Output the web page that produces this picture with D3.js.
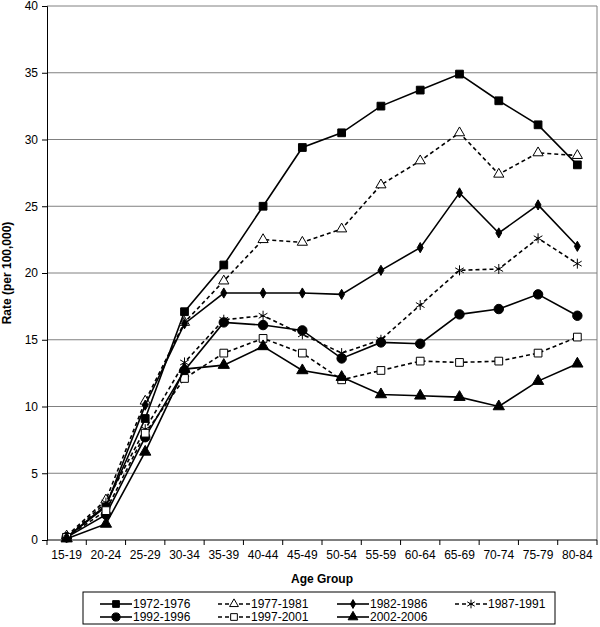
<!DOCTYPE html>
<html>
<head>
<meta charset="utf-8">
<script src="https://cdn.jsdelivr.net/npm/d3@7"></script>
<style>
  body { margin: 0; background: #fff; }
  text { font-family: "Liberation Sans", Arial, sans-serif; }
</style>
</head>
<body>
<div id="chart"></div>
<script>
var ageGroups = ['15-19','20-24','25-29','30-34','35-39','40-44','45-49','50-54','55-59','60-64','65-69','70-74','75-79','80-84'];
var yTicks = [0, 5, 10, 15, 20, 25, 30, 35, 40];

var s1972 = [0.2, 2.6, 9.1, 17.1, 20.6, 25.0, 29.4, 30.5, 32.5, 33.7, 34.9, 32.9, 31.1, 28.1];
var s1977 = [0.3, 3.0, 10.4, 16.3, 19.4, 22.5, 22.3, 23.3, 26.6, 28.4, 30.5, 27.4, 29.0, 28.8];
var s1982 = [0.2, 2.5, 10.1, 16.2, 18.5, 18.5, 18.5, 18.4, 20.2, 21.9, 26.0, 23.0, 25.1, 22.0];
var s1987 = [0.2, 2.8, 8.3, 13.3, 16.5, 16.8, 15.4, 14.0, 15.0, 17.6, 20.2, 20.3, 22.6, 20.7];
var s1992 = [0.2, 1.9, 7.7, 12.7, 16.3, 16.1, 15.7, 13.6, 14.8, 14.7, 16.9, 17.3, 18.4, 16.8];
var s1997 = [0.2, 2.2, 8.0, 12.1, 14.0, 15.1, 14.0, 12.0, 12.7, 13.4, 13.3, 13.4, 14.0, 15.2];
var s2002 = [0.1, 1.2, 6.6, 12.8, 13.1, 14.5, 12.7, 12.2, 10.9, 10.8, 10.7, 10.0, 11.9, 13.2];

var seriesNames = ['1972-1976','1977-1981','1982-1986','1987-1991','1992-1996','1997-2001','2002-2006'];
var seriesValues = [s1972, s1977, s1982, s1987, s1992, s1997, s2002];

// marker style per series
var styles = [
  {sym: d3.symbolSquare,   size: 60, fill: '#000', dash: null},
  {sym: d3.symbolTriangle, size: 45, fill: '#fff', dash: '4,3'},
  {sym: d3.symbolDiamond,  size: 30, fill: '#000', dash: null},
  {sym: d3.symbolAsterisk, size: 70, fill: 'none', dash: '4,3'},
  {sym: d3.symbolCircle,   size: 70, fill: '#000', dash: null},
  {sym: d3.symbolSquare,   size: 60, fill: '#fff', dash: '4,3'},
  {sym: d3.symbolTriangle, size: 55, fill: '#000', dash: null}
];

var width = 600, height = 627;
var margin = {left: 47, right: 3, top: 6, bottom: 87};

var svg = d3.select('#chart').append('svg')
  .attr('width', width)
  .attr('height', height);

var x = d3.scaleBand()
  .domain(ageGroups)
  .range([margin.left, width - margin.right]);

var y = d3.scaleLinear()
  .domain([0, 40])
  .range([height - margin.bottom, margin.top]);

// gridlines
svg.append('g')
  .selectAll('line')
  .data(yTicks.filter(function(d){ return d > 0; }))
  .enter()
  .append('line')
  .attr('x1', margin.left)
  .attr('x2', width - margin.right)
  .attr('y1', function(d){ return y(d); })
  .attr('y2', function(d){ return y(d); })
  .attr('stroke', '#808080')
  .attr('stroke-width', 1);

// right border
svg.append('line')
  .attr('x1', width - margin.right)
  .attr('x2', width - margin.right)
  .attr('y1', y(40))
  .attr('y2', y(0))
  .attr('stroke', '#808080');

// y axis
var yAxis = svg.append('g')
  .attr('transform', 'translate(' + margin.left + ',0)')
  .call(d3.axisLeft(y).tickValues(yTicks).tickSize(5).tickPadding(4));
yAxis.select('.domain').attr('stroke', '#000');
yAxis.selectAll('text').attr('font-size', 12).attr('fill', '#000')
  .attr('font-family', '"Liberation Sans", Arial, sans-serif');

// x axis with ticks between categories
var xAxis = svg.append('g')
  .attr('transform', 'translate(0,' + y(0) + ')')
  .call(d3.axisBottom(x).tickSize(0).tickPadding(10));
xAxis.select('.domain').attr('d', 'M' + margin.left + ',0H' + (width - margin.right)).attr('stroke', '#000');
xAxis.selectAll('text').attr('font-size', 12).attr('fill', '#000')
  .attr('font-family', '"Liberation Sans", Arial, sans-serif');
xAxis.selectAll('line.sep')
  .data(d3.range(ageGroups.length + 1))
  .enter()
  .append('line')
  .attr('class', 'sep')
  .attr('x1', function(i){ return margin.left + i * x.bandwidth(); })
  .attr('x2', function(i){ return margin.left + i * x.bandwidth(); })
  .attr('y1', 0)
  .attr('y2', 5)
  .attr('stroke', '#000');

// axis titles
svg.append('text')
  .text('Age Group')
  .attr('x', (margin.left + width - margin.right) / 2)
  .attr('y', 583)
  .attr('text-anchor', 'middle')
  .attr('font-size', 12)
  .attr('font-weight', 'bold');

svg.append('text')
  .text('Rate (per 100,000)')
  .attr('transform', 'translate(11,' + y(20) + ') rotate(-90)')
  .attr('text-anchor', 'middle')
  .attr('font-size', 12)
  .attr('font-weight', 'bold');

// lines + markers
var line = d3.line()
  .x(function(d, i){ return x(ageGroups[i]) + x.bandwidth() / 2; })
  .y(function(d){ return y(d); });

seriesValues.forEach(function(vals, k){
  var st = styles[k];
  var g = svg.append('g');
  g.append('path')
    .datum(vals)
    .attr('d', line)
    .attr('fill', 'none')
    .attr('stroke', '#000')
    .attr('stroke-width', 1.6)
    .attr('stroke-dasharray', st.dash);
  g.selectAll('path.m')
    .data(vals)
    .enter()
    .append('path')
    .attr('class', 'm')
    .attr('d', d3.symbol().type(st.sym).size(st.size))
    .attr('transform', function(d, i){
      return 'translate(' + (x(ageGroups[i]) + x.bandwidth() / 2) + ',' + y(d) + ')';
    })
    .attr('fill', st.fill)
    .attr('stroke', '#000')
    .attr('stroke-width', 1);
});

// legend
var legend = svg.append('g');
legend.append('rect')
  .attr('x', 83)
  .attr('y', 592)
  .attr('width', 472)
  .attr('height', 32)
  .attr('fill', '#fff')
  .attr('stroke', '#000');

var colX = [100, 218, 337, 455];
var rowY = [604, 617];
seriesNames.forEach(function(name, k){
  var st = styles[k];
  var lx = colX[k % 4], ly = rowY[Math.floor(k / 4)];
  legend.append('line')
    .attr('x1', lx).attr('x2', lx + 32)
    .attr('y1', ly).attr('y2', ly)
    .attr('stroke', '#000')
    .attr('stroke-width', 1.6)
    .attr('stroke-dasharray', st.dash);
  legend.append('path')
    .attr('d', d3.symbol().type(st.sym).size(st.size * 0.75))
    .attr('transform', 'translate(' + (lx + 16) + ',' + ly + ')')
    .attr('fill', st.fill)
    .attr('stroke', '#000');
  legend.append('text')
    .text(name)
    .attr('x', lx + 33)
    .attr('y', ly + 4)
    .attr('font-size', 12);
});
</script>
</body>
</html>
